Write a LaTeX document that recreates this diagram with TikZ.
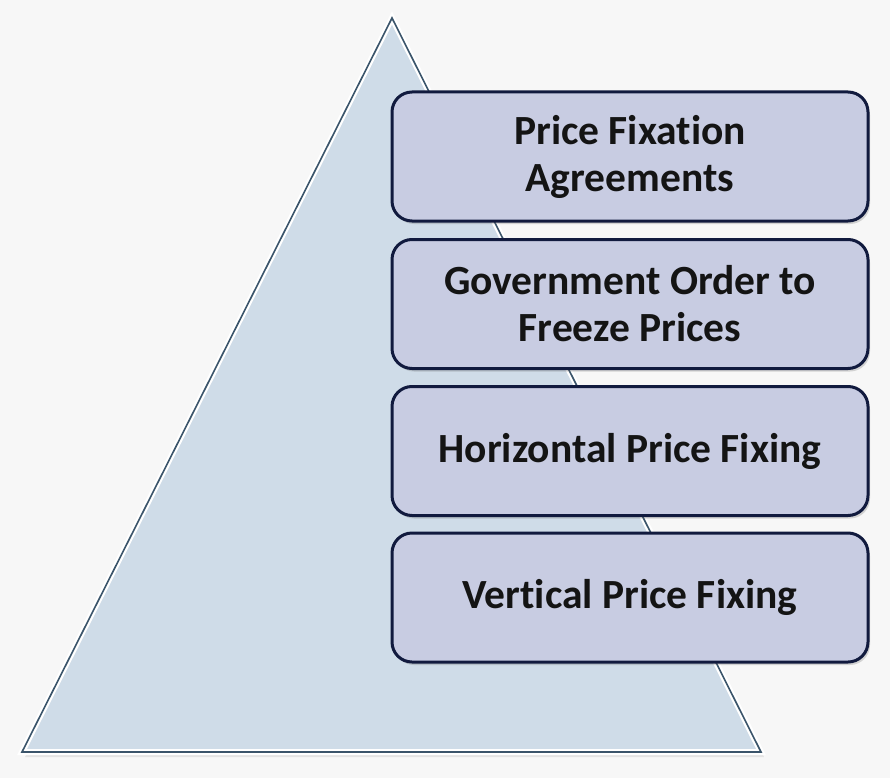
\documentclass[tikz,border=0pt]{standalone}
\usepackage{fontspec}
\setmainfont{Carlito}[Ligatures={NoCommon}]
\usetikzlibrary{shadows}
\definecolor{bgc}{HTML}{F7F7F7}
\definecolor{trif}{HTML}{CFDCE8}
\definecolor{tried}{HTML}{3A546A}
\definecolor{boxf}{HTML}{C8CCE2}
\definecolor{boxd}{HTML}{111A3E}
\tikzset{
  itembox/.style={draw=boxd, line width=3pt, fill=boxf, rounded corners=20pt,
    minimum width=476pt, minimum height=129pt, align=center,
    font=\fontsize{41.5}{47}\selectfont\bfseries, text=black!92,
    drop shadow={shadow xshift=2pt, shadow yshift=-3pt, opacity=0.25, fill=black!60}},
}
\begin{document}
\begin{tikzpicture}[x=1pt,y=-1pt]
\fill[bgc] (0,0) rectangle (890,778);
\useasboundingbox (0,0) rectangle (890,778);
% triangle
\coordinate (apex) at (392,18);
\coordinate (bl) at (22,752);
\coordinate (br) at (761,752);
\fill[black, opacity=0.08] ([shift={(3,5)}]apex) -- ([shift={(3,5)}]bl) -- ([shift={(3,5)}]br) -- cycle;
\draw[white, line width=6pt, line join=miter, fill=trif] (apex) -- (bl) -- (br) -- cycle;
\draw[tried, line width=1.6pt, line join=miter] (apex) -- (bl) -- (br) -- cycle;
% boxes
\node[itembox] (b1) at (630,156.5) {Price Fixation\\Agreements};
\node[itembox] (b2) at (630,304) {Government Order to\\Freeze Prices};
\node[itembox] (b3) at (630,451) {Horizontal Price Fixing};
\node[itembox] (b4) at (630,597.5) {Vertical Price Fixing};
\end{tikzpicture}
\end{document}
